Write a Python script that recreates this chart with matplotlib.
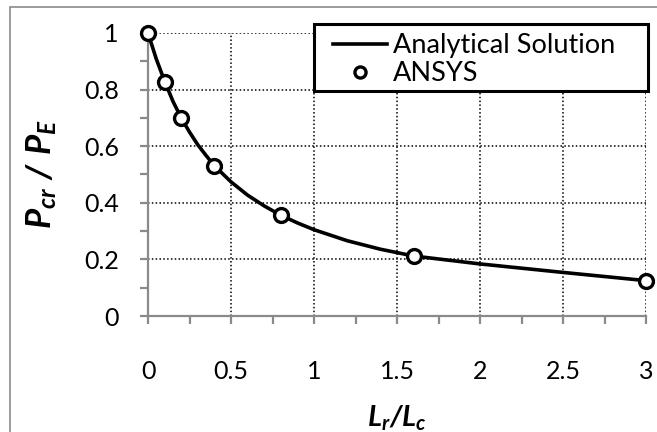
import matplotlib
matplotlib.use("Agg")
import matplotlib.pyplot as plt
from matplotlib.patches import Rectangle
from matplotlib.ticker import MultipleLocator

# values
ansys_x = [0, 0.1, 0.2, 0.4, 0.8, 1.6, 3.0]
ansys_y = [1.0, 0.828, 0.70, 0.531, 0.356, 0.212, 0.125]

analytic_x = [0, 0.05, 0.1, 0.15, 0.2, 0.25, 0.3, 0.35, 0.4, 0.5, 0.6, 0.7, 0.8, 0.9,
              1.0, 1.2, 1.4, 1.6, 2.0, 2.5, 3.0]
analytic_y = [1.0, 0.908, 0.83, 0.759, 0.70, 0.65, 0.605, 0.567, 0.531, 0.474, 0.427,
              0.389, 0.356, 0.329, 0.305, 0.266, 0.236, 0.212, 0.184, 0.154, 0.125]

plt.rcParams['font.family'] = ['Lato', 'DejaVu Sans']
plt.rcParams['mathtext.fontset'] = 'custom'
plt.rcParams['mathtext.rm'] = 'Lato:bold:italic'
plt.rcParams['mathtext.it'] = 'Lato:bold:italic'
plt.rcParams['mathtext.bf'] = 'Lato:bold:italic'

W, H = 657, 432
fig = plt.figure(figsize=(W / 100, H / 100), dpi=100)
ax = fig.add_axes([148 / W, 1 - 316 / H, (646 - 148) / W, (316 - 33) / H])

gray = '#8a8a8a'

ax.plot(analytic_x, analytic_y, color='black', lw=2.6, label='Analytical Solution',
        clip_on=False, zorder=3)
ax.plot(ansys_x, ansys_y, ls='none', marker='o', ms=10, mfc='white', mec='black',
        mew=2.4, label='ANSYS', clip_on=False, zorder=4)

ax.set_xlim(0, 3)
ax.set_ylim(0, 1)
ax.xaxis.set_major_locator(MultipleLocator(0.5))
ax.xaxis.set_minor_locator(MultipleLocator(0.25))
ax.yaxis.set_major_locator(MultipleLocator(0.2))
ax.yaxis.set_minor_locator(MultipleLocator(0.1))
ax.xaxis.set_major_formatter(plt.FuncFormatter(lambda v, p: f'{v:g}'))
ax.yaxis.set_major_formatter(plt.FuncFormatter(lambda v, p: f'{v:g}'))

ax.grid(True, which='major', color='black', ls=(0, (1, 1.5)), lw=1.1)
for s in ['top', 'right']:
    ax.spines[s].set_visible(False)
for s in ['left', 'bottom']:
    ax.spines[s].set_color(gray)
    ax.spines[s].set_linewidth(1.6)

ax.tick_params(which='both', direction='out', color=gray, width=1.6, length=6)
ax.tick_params(axis='x', which='major', labelsize=18, pad=26)
ax.tick_params(axis='y', which='major', labelsize=18, pad=15)

ax.set_xlabel(r'$L_r/L_c$', fontsize=21)
ax.set_ylabel(r'$P_{cr}\ /\ P_E$', fontsize=25)
ax.xaxis.set_label_coords(0.5, -0.31)
ax.yaxis.set_label_coords(-0.178, 0.5)

# legend entries without frame, box drawn separately to match the reference size
box = Rectangle((314 / W, 1 - 91 / H), (648 - 314) / W, (91 - 24) / H,
                transform=fig.transFigure, facecolor='white', edgecolor='black',
                lw=2.2, zorder=5, clip_on=False)
ax.add_patch(box)
leg = ax.legend(loc='upper left', bbox_to_anchor=(333 / W, 1 - 33 / H),
                bbox_transform=fig.transFigure, borderaxespad=0, borderpad=0,
                fontsize=19.5, frameon=False, handlelength=2.0, handletextpad=0.22,
                labelspacing=0.12, markerscale=0.8, numpoints=1)
leg.set_zorder(6)

fig.patches.append(Rectangle((10 / W, -0.05), 1.2, 1.05 - 7 / H, transform=fig.transFigure,
                             fill=False, edgecolor=gray, lw=1.2))

fig.savefig('out.png', dpi=100)
